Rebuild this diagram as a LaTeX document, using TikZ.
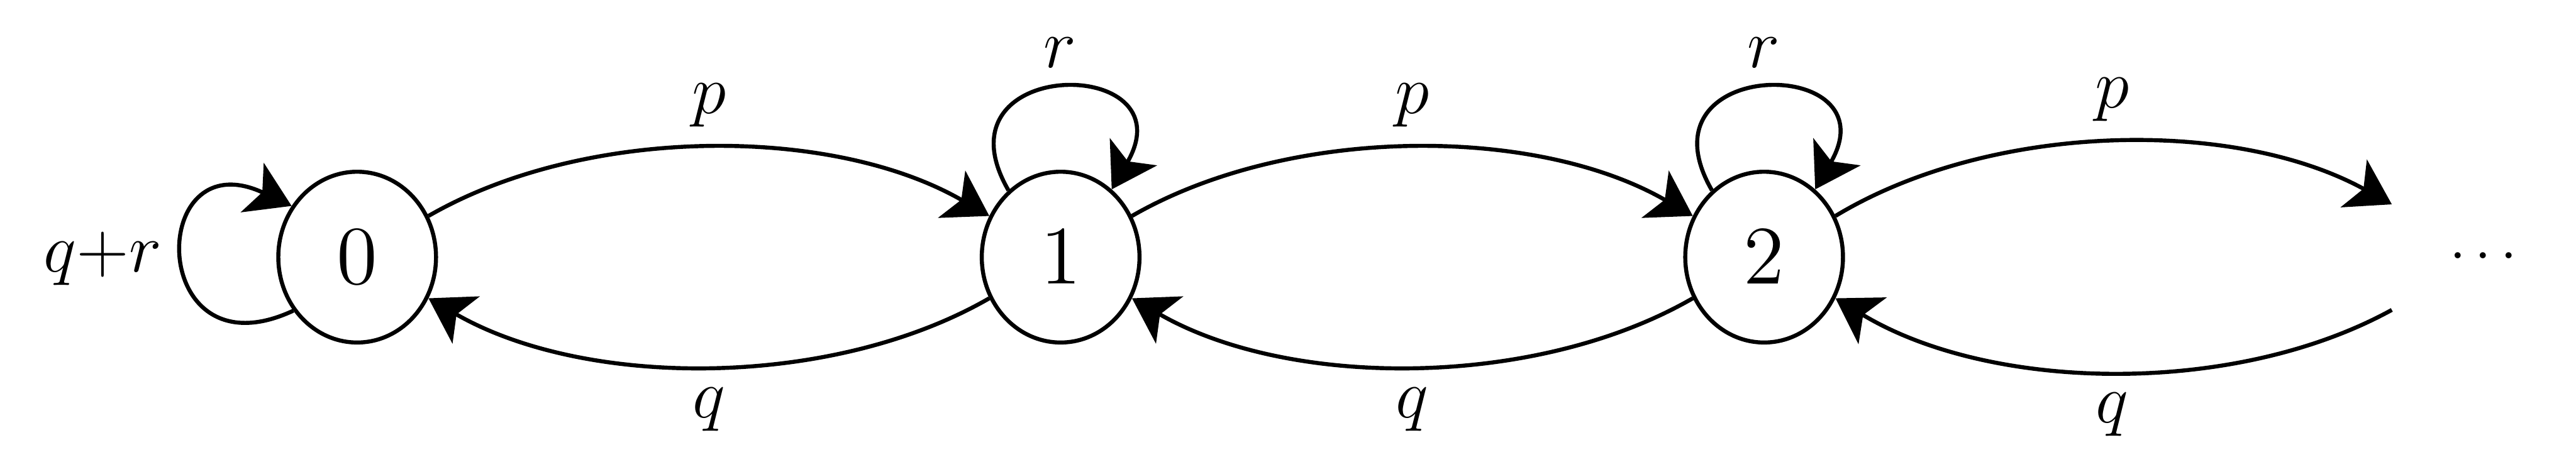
\documentclass[tikz,border=0pt]{standalone}
\usetikzlibrary{arrows.meta,shapes.geometric}
\begin{document}
\begin{tikzpicture}[line width=0.7pt, font=\large,
    >={Stealth[length=7.5pt,width=9.4pt,inset=1.9pt]},
    state/.style={draw, ellipse, minimum width=0.96cm, minimum height=1.04cm, inner sep=0pt, font=\fontsize{15.5}{18}\selectfont},
    blank/.style={rectangle, minimum width=1.09cm, minimum height=1.04cm, inner sep=0pt, font=\normalsize},
    hop/.style={->, bend left=30, looseness=0.83}]
    \useasboundingbox (0,0) rectangle (15.68,-2.81);

    \node[state] (S0) at (2.174,-1.566) {$0$};
    \node[state] (S1) at (6.456,-1.566) {$1$};
    \node[state] (S2) at (10.738,-1.566) {$2$};
    \node[blank] (S3) at (15.116,-1.566) {$\cdots$};

    \draw[->] (S0.220) .. controls +(205:0.98) and +(155:0.98) .. (S0.142) node[midway, left] {$q{+}r$};
    \draw[->] (S1.128) .. controls +(120:0.95) and +(60:0.95) .. (S1.53) node[midway, above] {$r$};
    \draw[->] (S2.128) .. controls +(120:0.95) and +(60:0.95) .. (S2.53) node[midway, above] {$r$};

    \draw[hop] (S0) to node[above] {$p$} (S1);
    \draw[hop] (S1) to node[below] {$q$} (S0);
    \draw[hop] (S1) to node[above] {$p$} (S2);
    \draw[hop] (S2) to node[below] {$q$} (S1);
    \draw[hop] (S2) to node[above] {$p$} (S3);
    \draw[hop] (S3) to node[below] {$q$} (S2);

\end{tikzpicture}
\end{document}
